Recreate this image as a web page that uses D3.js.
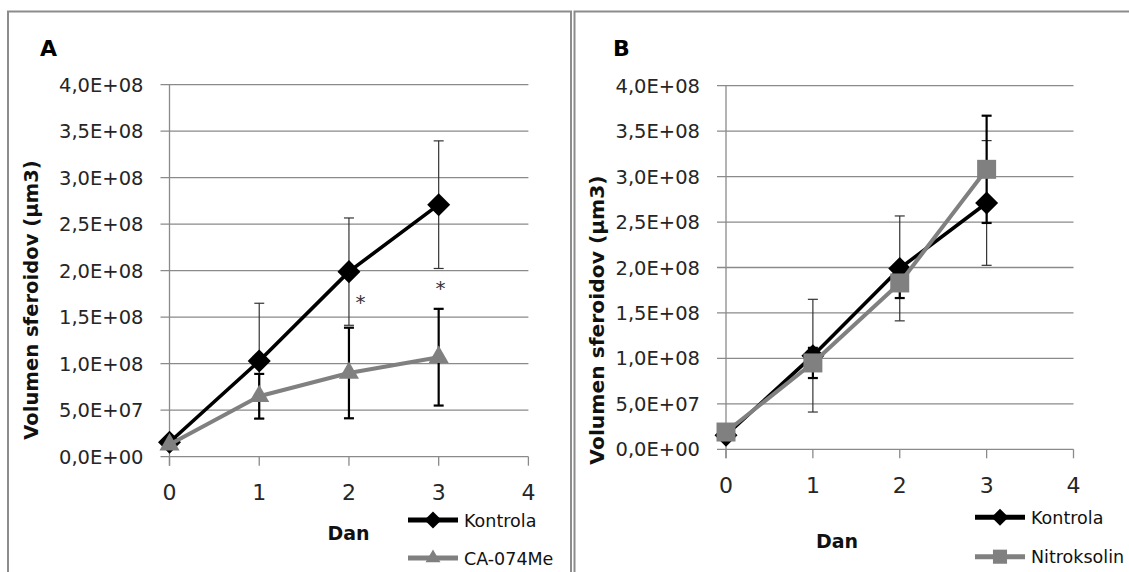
<!DOCTYPE html>
<html>
<head>
<meta charset="utf-8">
<script src="https://cdn.jsdelivr.net/npm/d3@7"></script>
<style>
  body { margin: 0; background: #fff; }
  svg { display: block; }
  text { font-family: "DejaVu Sans", sans-serif; }
</style>
</head>
<body>
<div id="chart"></div>
<script>
// values
var days = [0, 1, 2, 3];
var xTicks = [0, 1, 2, 3, 4];
var yTicks = [0, 5e7, 1e8, 1.5e8, 2e8, 2.5e8, 3e8, 3.5e8, 4e8];
var yTickLabels = ["0,0E+00", "5,0E+07", "1,0E+08", "1,5E+08", "2,0E+08", "2,5E+08", "3,0E+08", "3,5E+08", "4,0E+08"];

var kontrola = [1.55e7, 1.03e8, 1.99e8, 2.71e8];
var kontrolaErr = [3e6, 6.2e7, 5.77e7, 6.86e7];

var ca074 = [1.3e7, 6.5e7, 9.0e7, 1.07e8];
var ca074Err = [3e6, 2.4e7, 4.87e7, 5.2e7];

var nitroksolin = [1.9e7, 9.5e7, 1.83e8, 3.08e8];
var nitroksolinErr = [3e6, 1.66e7, 1.66e7, 5.9e7];

// asterisks in panel A (day, value)
var starDays = [2.13, 3.02];
var starValues = [1.72e8, 1.87e8];

var width = 1129, height = 572;

var svg = d3.select("#chart").append("svg")
    .attr("width", width)
    .attr("height", height);

// panel frames
svg.append("rect")
    .attr("x", 8).attr("y", 11.5)
    .attr("width", 563).attr("height", 600)
    .attr("fill", "none").attr("stroke", "#8c8c8c").attr("stroke-width", 2);
svg.append("rect")
    .attr("x", 574.5).attr("y", 11.5)
    .attr("width", 600).attr("height", 600)
    .attr("fill", "none").attr("stroke", "#8c8c8c").attr("stroke-width", 2);

function drawPanel(p) {
    var x = d3.scaleLinear().domain([0, 4]).range([p.left, p.right]);
    var y = d3.scaleLinear().domain([0, 4e8]).range([p.bottom, p.top]);
    var g = svg.append("g");

    // grid
    g.selectAll(".grid").data(yTicks).enter().append("line")
        .attr("x1", p.left - 9).attr("x2", p.right)
        .attr("y1", d => y(d)).attr("y2", d => y(d))
        .attr("stroke", "#8a8a8a").attr("stroke-width", 1.3);

    // y axis line
    g.append("line")
        .attr("x1", p.left).attr("x2", p.left)
        .attr("y1", p.top).attr("y2", p.bottom + 9)
        .attr("stroke", "#8a8a8a").attr("stroke-width", 1.3);
    // x ticks
    g.selectAll(".xt").data(xTicks).enter().append("line")
        .attr("x1", d => x(d)).attr("x2", d => x(d))
        .attr("y1", p.bottom).attr("y2", p.bottom + 9)
        .attr("stroke", "#8a8a8a").attr("stroke-width", 1.3);

    g.selectAll(".yl").data(yTicks).enter().append("text")
        .attr("x", p.left - 26)
        .attr("y", d => y(d))
        .attr("dy", "0.36em")
        .attr("text-anchor", "end")
        .attr("font-size", 19.5)
        .attr("fill", "#262626")
        .text((d, i) => yTickLabels[i]);

    g.selectAll(".xl").data(xTicks).enter().append("text")
        .attr("x", d => x(d))
        .attr("y", p.bottom + 43.5)
        .attr("text-anchor", "middle")
        .attr("font-size", 22)
        .attr("fill", "#262626")
        .text(d => d);

    // axis titles
    g.append("text")
        .attr("transform", `translate(${p.yTitleX}, ${p.yTitleY}) rotate(-90)`)
        .attr("text-anchor", "middle")
        .attr("font-size", p.yTitleSize)
        .attr("font-weight", "bold")
        .attr("fill", "#111")
        .text("Volumen sferoidov (µm3)");
    g.append("text")
        .attr("x", p.danX).attr("y", p.danY)
        .attr("text-anchor", "middle")
        .attr("font-size", 19)
        .attr("font-weight", "bold")
        .attr("fill", "#111")
        .text("Dan");
    g.append("text")
        .attr("x", p.letterX).attr("y", 56)
        .attr("font-size", 22)
        .attr("font-weight", "bold")
        .attr("fill", "#000")
        .text(p.letter);

    var line = d3.line().x((d, i) => x(days[i])).y(d => y(d));

    p.series.forEach(function(s) {
        var eb = g.append("g");
        s.values.forEach(function(v, i) {
            var cx = x(days[i]);
            var lo = y(v - s.err[i]), hi = y(v + s.err[i]);
            eb.append("line").attr("x1", cx).attr("x2", cx).attr("y1", lo).attr("y2", hi)
                .attr("stroke", s.errColor).attr("stroke-width", s.errWidth);
            [lo, hi].forEach(function(yy) {
                eb.append("line").attr("x1", cx - 5).attr("x2", cx + 5).attr("y1", yy).attr("y2", yy)
                    .attr("stroke", s.errColor).attr("stroke-width", s.errWidth);
            });
        });
    });

    p.series.forEach(function(s) {
        g.append("path").datum(s.values)
            .attr("d", line)
            .attr("fill", "none")
            .attr("stroke", s.color)
            .attr("stroke-width", s.lineWidth)
            .attr("stroke-linejoin", "round");
        g.selectAll(null).data(s.values).enter().append("path")
            .attr("d", s.symbol(s.size))
            .attr("transform", (d, i) => `translate(${x(days[i])}, ${y(d)})` + (s.rotate ? " rotate(45)" : ""))
            .attr("fill", s.color);
    });

    // legend
    p.series.forEach(function(s, i) {
        var ly = p.legendY[i];
        g.append("line")
            .attr("x1", p.legendX).attr("x2", p.legendX + 50)
            .attr("y1", ly).attr("y2", ly)
            .attr("stroke", s.color).attr("stroke-width", 5);
        g.append("path")
            .attr("d", s.symbol(s.size * 0.55))
            .attr("transform", `translate(${p.legendX + 25}, ${ly})` + (s.rotate ? " rotate(45)" : ""))
            .attr("fill", s.color);
        g.append("text")
            .attr("x", p.legendX + 56).attr("y", ly + 6.5)
            .attr("font-size", 17.5)
            .attr("fill", "#111")
            .text(s.name);
    });

    if (p.stars) {
        g.selectAll(".star").data(starValues).enter().append("text")
            .attr("x", (d, i) => x(starDays[i]))
            .attr("y", d => y(d))
            .attr("dy", "0.6em")
            .attr("text-anchor", "middle")
            .attr("font-size", 20)
            .attr("fill", "#333")
            .text("*");
    }
}

var kontrolaSeries = {
    name: "Kontrola", values: kontrola, err: kontrolaErr, color: "#000",
    lineWidth: 3.6, errColor: "#333", errWidth: 1.2,
    symbol: s => d3.symbol().type(d3.symbolSquare).size(s)(), size: 265, rotate: true
};

drawPanel({
    letter: "A", letterX: 40,
    left: 169.5, right: 528.4, top: 84.7, bottom: 456.7,
    yTitleX: 38, yTitleY: 300, yTitleSize: 19.6, danX: 348.5, danY: 540,
    legendX: 408, legendY: [520, 558], stars: true,
    series: [
        kontrolaSeries,
        { name: "CA-074Me", values: ca074, err: ca074Err, color: "#808080",
          lineWidth: 4, errColor: "#000", errWidth: 2.2,
          symbol: s => d3.symbol().type(d3.symbolTriangle).size(s)(), size: 175, rotate: false }
    ]
});

drawPanel({
    letter: "B", letterX: 613,
    left: 726, right: 1073.5, top: 85.7, bottom: 449.3,
    yTitleX: 604, yTitleY: 320, yTitleSize: 20.3, danX: 837, danY: 548,
    legendX: 975, legendY: [517.3, 556.7], stars: false,
    series: [
        kontrolaSeries,
        { name: "Nitroksolin", values: nitroksolin, err: nitroksolinErr, color: "#808080",
          lineWidth: 4, errColor: "#000", errWidth: 2.2,
          symbol: s => d3.symbol().type(d3.symbolSquare).size(s)(), size: 361, rotate: false }
    ]
});
</script>
</body>
</html>
